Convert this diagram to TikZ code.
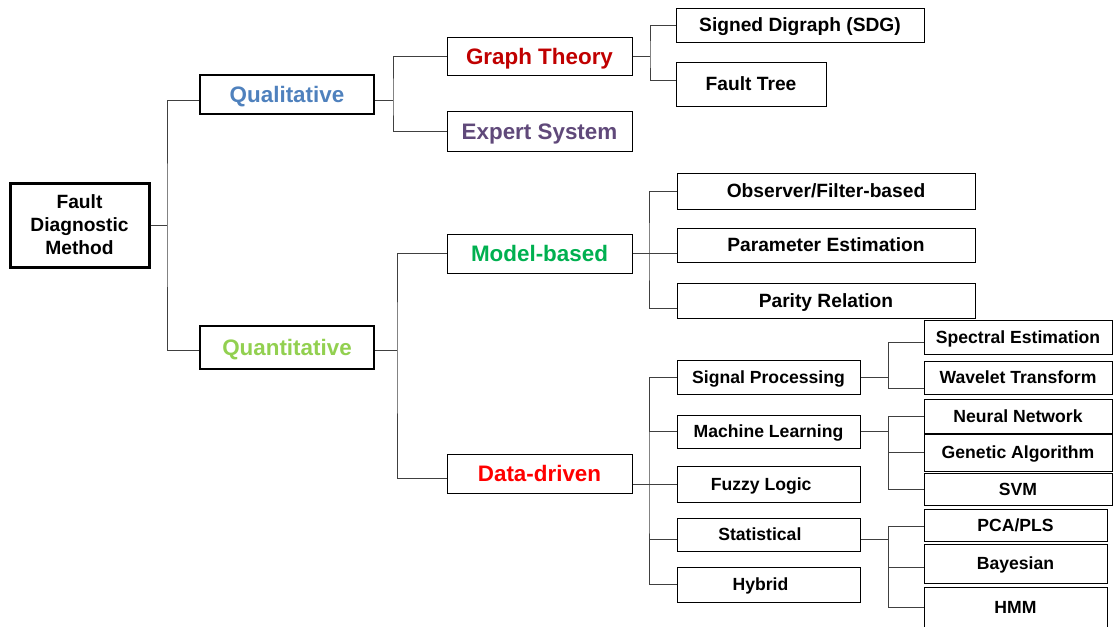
\documentclass[tikz,border=0pt]{standalone}
\usepackage{fontspec}
\setmainfont{Liberation Sans}
\usetikzlibrary{calc}
\definecolor{cqual}{RGB}{79,129,189}
\definecolor{cquan}{RGB}{146,208,80}
\definecolor{cgraph}{RGB}{192,0,0}
\definecolor{cexpert}{RGB}{96,73,122}
\definecolor{cmodel}{RGB}{0,176,80}
\definecolor{cdata}{RGB}{255,0,0}
\definecolor{cline}{RGB}{64,64,64}
\begin{document}
\begin{tikzpicture}[x=0.75pt,y=-0.75pt,
  bx/.style 2 args={draw=black,line width=0.75pt,inner sep=0pt,align=center,
     text height=9.45pt,text depth=0pt,
     minimum width=#1*0.75pt,minimum height=#2*0.75pt,font=\bfseries\fontsize{13.2}{15.8}\selectfont},
  midtext/.style={font=\bfseries\fontsize{14.4}{17.2}\selectfont,text height=10.3pt},
  bigtext/.style={font=\bfseries\fontsize{16.8}{20}\selectfont,line width=1.5pt,text height=12pt},
  conn/.style={draw=cline,line width=0.75pt}]
\useasboundingbox (0,0) rectangle (1113,626);
% level 0
\node[bx={139}{84},text height=,text depth=,line width=2.25pt,font=\bfseries\fontsize{14.4}{17.25}\selectfont] (fdm) at (79.5,225) {Fault\\Diagnostic\\Method};
% level 1
\node[bx={174}{39},bigtext,text=cqual] (qual) at (287,94.5) {Qualitative};
\node[bx={174}{43},bigtext,text=cquan] (quan) at (287,347.5) {Quantitative};
% level 2
\node[bx={185}{38},bigtext,line width=0.75pt,text=cgraph] (gt) at (539.5,56) {Graph Theory};
\node[bx={185}{40},bigtext,line width=0.75pt,text=cexpert] (es) at (539.5,131) {Expert System};
\node[bx={185}{39},bigtext,line width=0.75pt,text=cmodel] (mb) at (539.5,253.5) {Model-based};
\node[bx={185}{39},bigtext,line width=0.75pt,text=cdata] (dd) at (539.5,473.5) {Data-driven};
% level 3
\node[bx={248}{34},midtext] (sdg) at (800,25) {Signed Digraph (SDG)};
\node[bx={150}{44},midtext] (ft) at (751,84) {Fault Tree};
\node[bx={298}{36},midtext] (obs) at (826,191) {Observer/Filter-based};
\node[bx={298}{34},midtext] (pe) at (826,245) {Parameter Estimation};
\node[bx={298}{35},midtext] (pr) at (826,300.5) {Parity Relation};
\node[bx={183}{34}] (sp) at (768.5,377) {Signal Processing};
\node[bx={183}{33}] (ml) at (768.5,431.5) {Machine Learning};
\node[bx={183}{36}] (fl) at (768.5,484) {Fuzzy Logic\hspace*{11pt}};
\node[bx={183}{33}] (st) at (768.5,534.5) {Statistical\hspace*{13pt}};
\node[bx={183}{35}] (hy) at (768.5,584.5) {Hybrid\hspace*{12pt}};
% level 4
\node[bx={188}{34}] (se) at (1018,337) {Spectral Estimation};
\node[bx={188}{33}] (wt) at (1018,377.5) {Wavelet Transform};
\node[bx={188}{34}] (nn) at (1018,416) {Neural Network};
\node[bx={188}{37}] (ga) at (1018,452.5) {Genetic Algorithm};
\node[bx={188}{32}] (svm) at (1018,489) {SVM};
\node[bx={183}{32}] (pca) at (1015.5,525) {PCA/PLS};
\node[bx={183}{39}] (bay) at (1015.5,563.5) {Bayesian};
\node[bx={183}{40}] (hmm) at (1015.5,607) {HMM};
% buses
\coordinate (b1) at (167,225);
\coordinate (b2) at (393,100);
\coordinate (b3) at (650,56);
\coordinate (b4) at (397,350);
\coordinate (b5) at (649,253.5);
\coordinate (b6) at (649,484);
\coordinate (b7) at (888,377);
\coordinate (b8) at (888,431.5);
\coordinate (b9) at (888,539);
% connectors
\draw[conn] (fdm.east) -- (b1);
\draw[conn] ($(qual.west)+(0,5.5)$) -| (b1) |- ($(quan.west)+(0,2.5)$);
\draw[conn] ($(qual.east)+(0,5.5)$) -- (b2);
\draw[conn] (gt.west) -| (b2) |- (es.west);
\draw[conn] (gt.east) -- (b3);
\draw[conn] (sdg.west) -| (b3) |- ($(ft.west)+(0,-4)$);
\draw[conn] ($(quan.east)+(0,2.5)$) -- (b4);
\draw[conn] (mb.west) -| (b4) |- ($(dd.west)+(0,4.5)$);
\draw[conn] (mb.east) -- (mb.east -| pe.west);
\draw[conn] (obs.west) -| (b5) |- ($(pr.west)+(0,7.5)$);
\draw[conn] (dd.east |- fl.west) -- (fl.west);
\draw[conn] (sp.west) -| (b6) |- (hy.west);
\draw[conn] (b6 |- ml.west) -- (ml.west);
\draw[conn] (b6 |- st.west) ++(0,4.5) -- ($(st.west)+(0,4.5)$);
\draw[conn] (sp.east) -- (b7);
\draw[conn] ($(se.west)+(0,5)$) -| (b7) |- ($(wt.west)+(0,10.5)$);
\draw[conn] (ml.east) -- (b8);
\draw[conn] (nn.west) -| (b8) |- (svm.west);
\draw[conn] (b8 |- ga.west) -- (ga.west);
\draw[conn] ($(st.east)+(0,4.5)$) -- (b9);
\draw[conn] ($(pca.west)+(0,1)$) -| (b9) |- (hmm.west);
\draw[conn] (b9 |- bay.west) ++(0,3.5) -- ($(bay.west)+(0,3.5)$);
\end{tikzpicture}
\end{document}
